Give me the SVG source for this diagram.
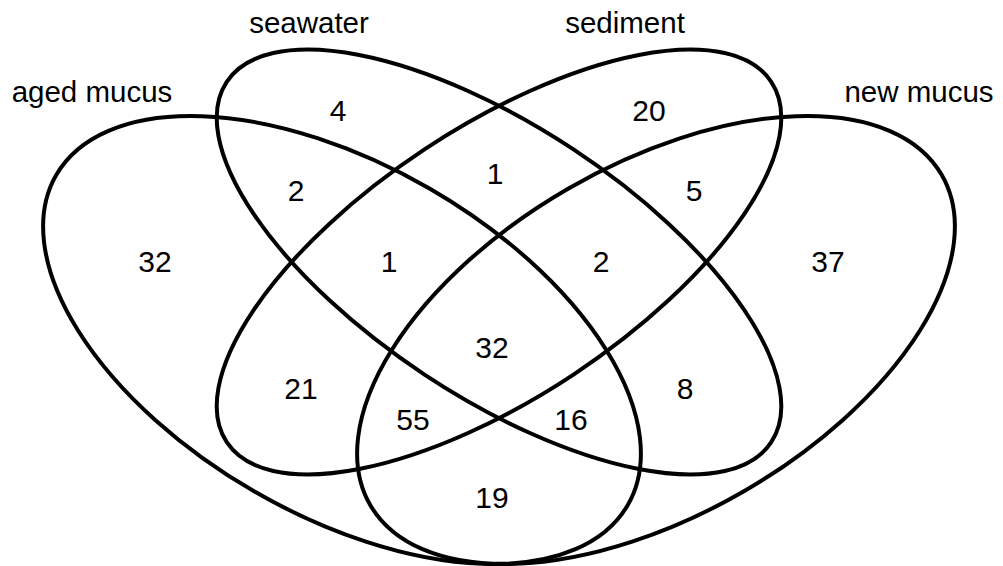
<svg xmlns="http://www.w3.org/2000/svg" width="1003" height="566" viewBox="0 0 1003 566">
<style>
.set{fill:none;stroke:#000;stroke-width:4}
.lbl{font-family:"Liberation Sans",Arial,sans-serif;font-size:29.5px;fill:#000;text-anchor:middle}
.num{font-family:"Liberation Sans",Arial,sans-serif;font-size:30px;fill:#000;text-anchor:middle;dominant-baseline:central}
</style>
<rect width="1003" height="566" fill="#fff"/>
<g id="aged-mucus">
<ellipse class="set" cx="342" cy="340" rx="330" ry="175" transform="rotate(30 342 340)"/>
<text class="lbl" x="92" y="102">aged mucus</text>
</g>
<g id="seawater">
<ellipse class="set" cx="499" cy="262" rx="326.5" ry="135" transform="rotate(33.5 499 262)"/>
<text class="lbl" x="309" y="33">seawater</text>
</g>
<g id="sediment">
<ellipse class="set" cx="499" cy="262" rx="326.5" ry="135" transform="rotate(-33.5 499 262)"/>
<text class="lbl" x="625" y="33">sediment</text>
</g>
<g id="new-mucus">
<ellipse class="set" cx="656" cy="340" rx="330" ry="175" transform="rotate(-30 656 340)"/>
<text class="lbl" x="919" y="102">new mucus</text>
</g>
<g id="counts">
<text class="num" x="338" y="110">4</text>
<text class="num" x="649" y="110">20</text>
<text class="num" x="495" y="173">1</text>
<text class="num" x="296" y="190">2</text>
<text class="num" x="694" y="190">5</text>
<text class="num" x="155" y="261">32</text>
<text class="num" x="389" y="261">1</text>
<text class="num" x="601" y="261">2</text>
<text class="num" x="828" y="261">37</text>
<text class="num" x="492" y="347">32</text>
<text class="num" x="301" y="388">21</text>
<text class="num" x="685" y="388">8</text>
<text class="num" x="413" y="419">55</text>
<text class="num" x="571" y="419">16</text>
<text class="num" x="492" y="497">19</text>
</g>
</svg>
